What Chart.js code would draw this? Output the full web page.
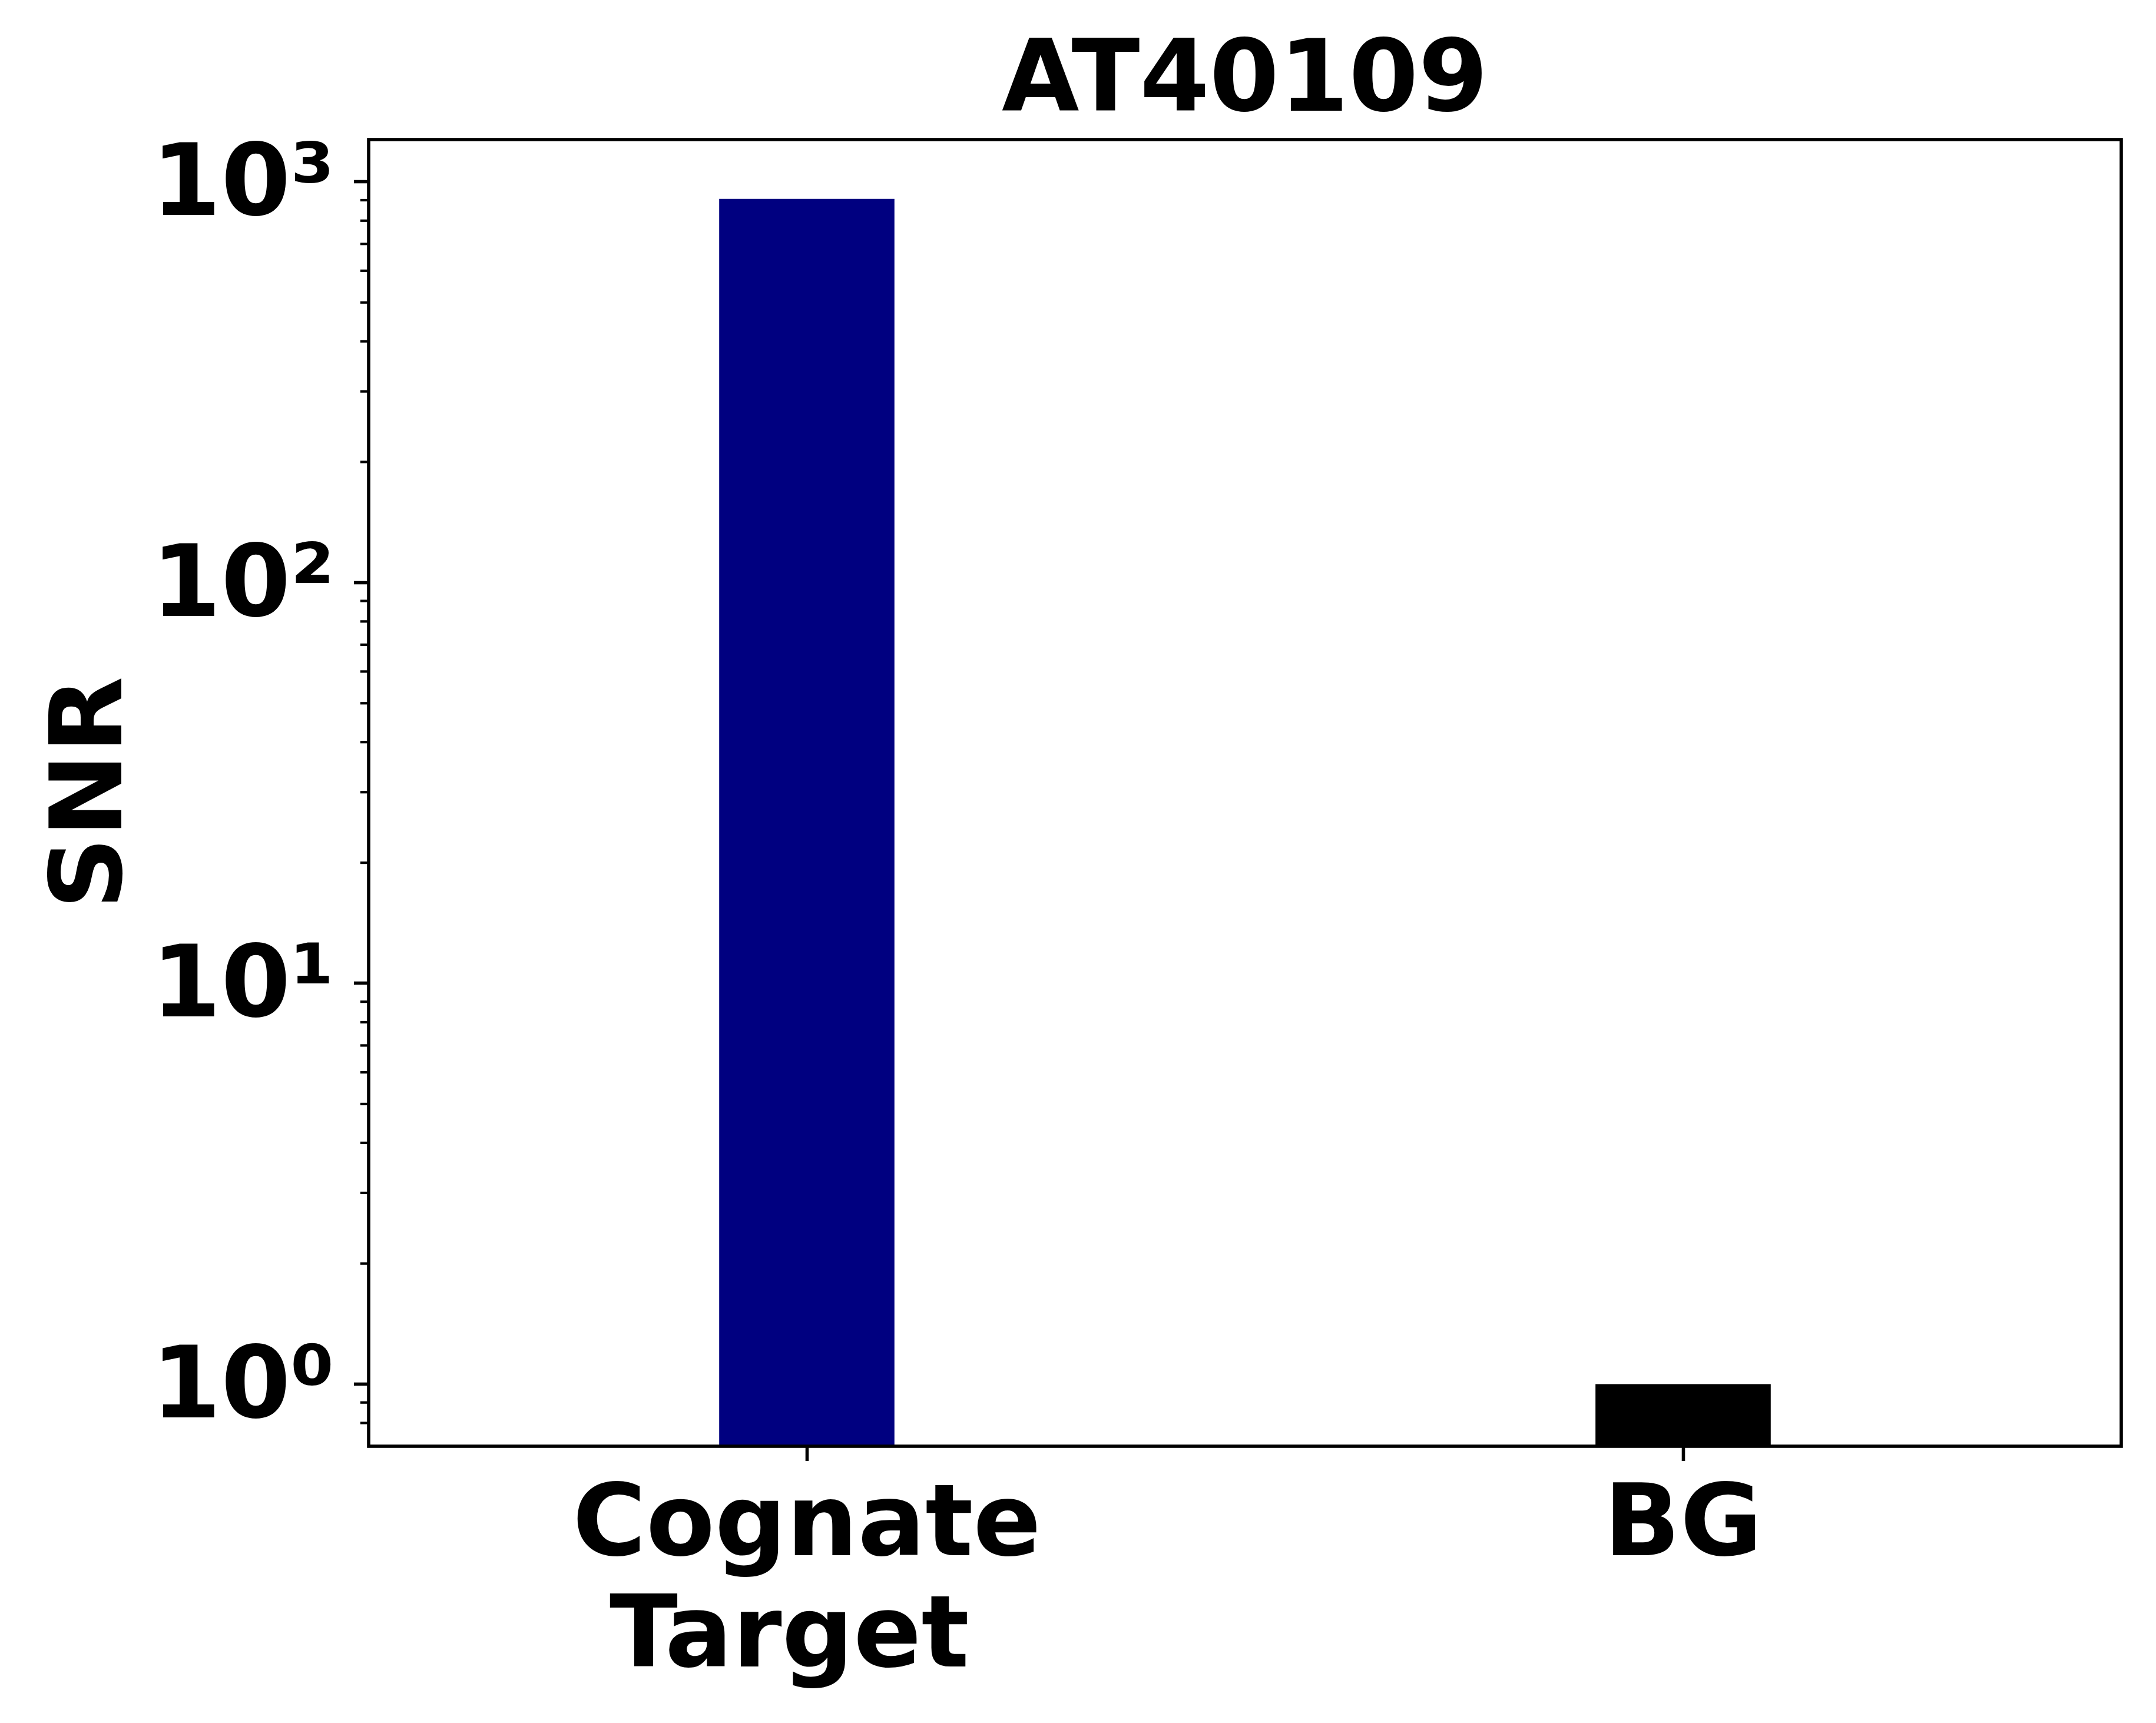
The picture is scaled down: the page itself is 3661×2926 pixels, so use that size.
<!DOCTYPE html>
<html>
<head>
<meta charset="utf-8">
<script src="https://cdn.jsdelivr.net/npm/chart.js@4.4.1/dist/chart.umd.min.js"></script>
<style>
  html, body { margin: 0; padding: 0; background: #ffffff; }
  canvas { display: block; }
</style>
</head>
<body>
<canvas id="grafico" width="3661" height="2926"></canvas>
<script>
// dados
const categories = [['Cognate', 'Target '], 'BG'];
const snrValues = [907, 1.0];
const barColors = ['#000080', '#000000'];

// eixo y (log)
const yMin = 0.709;
const yMax = 1275;
const majorTicks = [1, 10, 100, 1000];
const majorLabels = ['10⁰', '10¹', '10²', '10³'];
const minorTicks = [0.8, 0.9, 2, 3, 4, 5, 6, 7, 8, 9, 20, 30, 40, 50, 60, 70, 80, 90,
                    200, 300, 400, 500, 600, 700, 800, 900];

const FONT = 'DejaVu Sans';
const FS = 170;
const LW = 5.6;

function isMajor(v) {
    return majorTicks.indexOf(v) !== -1;
}

// moldura e ticks menores
const molduraPlugin = {
    id: 'moldura',
    afterDraw(chart) {
        const ctx = chart.ctx;
        const a = chart.chartArea;
        const y = chart.scales.y;
        ctx.save();
        ctx.strokeStyle = '#000';
        ctx.lineWidth = 4.2;
        minorTicks.forEach(v => {
            const py = y.getPixelForValue(v);
            ctx.beginPath();
            ctx.moveTo(a.left - 14.2, py);
            ctx.lineTo(a.left, py);
            ctx.stroke();
        });
        ctx.lineWidth = LW;
        ctx.strokeRect(a.left, a.top, a.right - a.left, a.bottom - a.top);
        ctx.restore();
    }
};

const ctx = document.getElementById('grafico').getContext('2d');
const grafico = new Chart(ctx, {
    type: 'bar',
    data: {
        labels: categories,
        datasets: [{
            data: snrValues,
            backgroundColor: barColors,
            borderWidth: 0,
            barPercentage: 0.2,
            categoryPercentage: 1.0
        }]
    },
    options: {
        responsive: false,
        devicePixelRatio: 1,
        animation: false,
        layout: { padding: { left: 0, right: 59, top: 0, bottom: 0 } },
        plugins: {
            legend: { display: false },
            tooltip: { enabled: false },
            title: {
                display: true,
                text: 'AT40109',
                fullSize: false,
                color: '#000',
                font: { family: FONT, size: FS, weight: 'bold', lineHeight: 1.0 },
                padding: { top: 59, bottom: 8 }
            }
        },
        scales: {
            x: {
                offset: true,
                border: { display: false },
                grid: {
                    offset: false,
                    drawOnChartArea: false,
                    drawTicks: true,
                    tickLength: 25,
                    tickWidth: LW,
                    tickColor: '#000'
                },
                ticks: {
                    color: '#000',
                    maxRotation: 0,
                    autoSkip: false,
                    padding: 21,
                    font: { family: FONT, size: FS, weight: 'bold', lineHeight: 189 / 170 }
                },
                afterFit(scale) { scale.height = 470; }
            },
            y: {
                type: 'logarithmic',
                min: yMin,
                max: yMax,
                border: { display: false },
                grid: {
                    drawOnChartArea: false,
                    drawTicks: true,
                    tickLength: 25,
                    tickWidth: c => (c.tick && isMajor(c.tick.value)) ? LW : 0,
                    tickColor: c => (c.tick && isMajor(c.tick.value)) ? '#000' : 'rgba(0,0,0,0)'
                },
                afterBuildTicks(scale) {
                    scale.ticks = majorTicks.concat(minorTicks)
                        .sort((p, q) => p - q)
                        .map(v => ({ value: v, major: isMajor(v) }));
                },
                ticks: {
                    color: '#000',
                    autoSkip: false,
                    padding: 33,
                    labelOffset: 12,
                    font: { family: FONT, size: FS, weight: 'bold' },
                    callback: function (value) {
                        const i = majorTicks.indexOf(value);
                        return i === -1 ? '' : majorLabels[i];
                    }
                },
                title: {
                    display: true,
                    text: 'SNR',
                    color: '#000',
                    font: { family: FONT, size: FS, weight: 'bold', lineHeight: 1.2 },
                    padding: { top: 60, bottom: 0 }
                },
                afterFit(scale) { scale.width = 626; }
            }
        }
    },
    plugins: [molduraPlugin]
});
</script>
</body>
</html>
